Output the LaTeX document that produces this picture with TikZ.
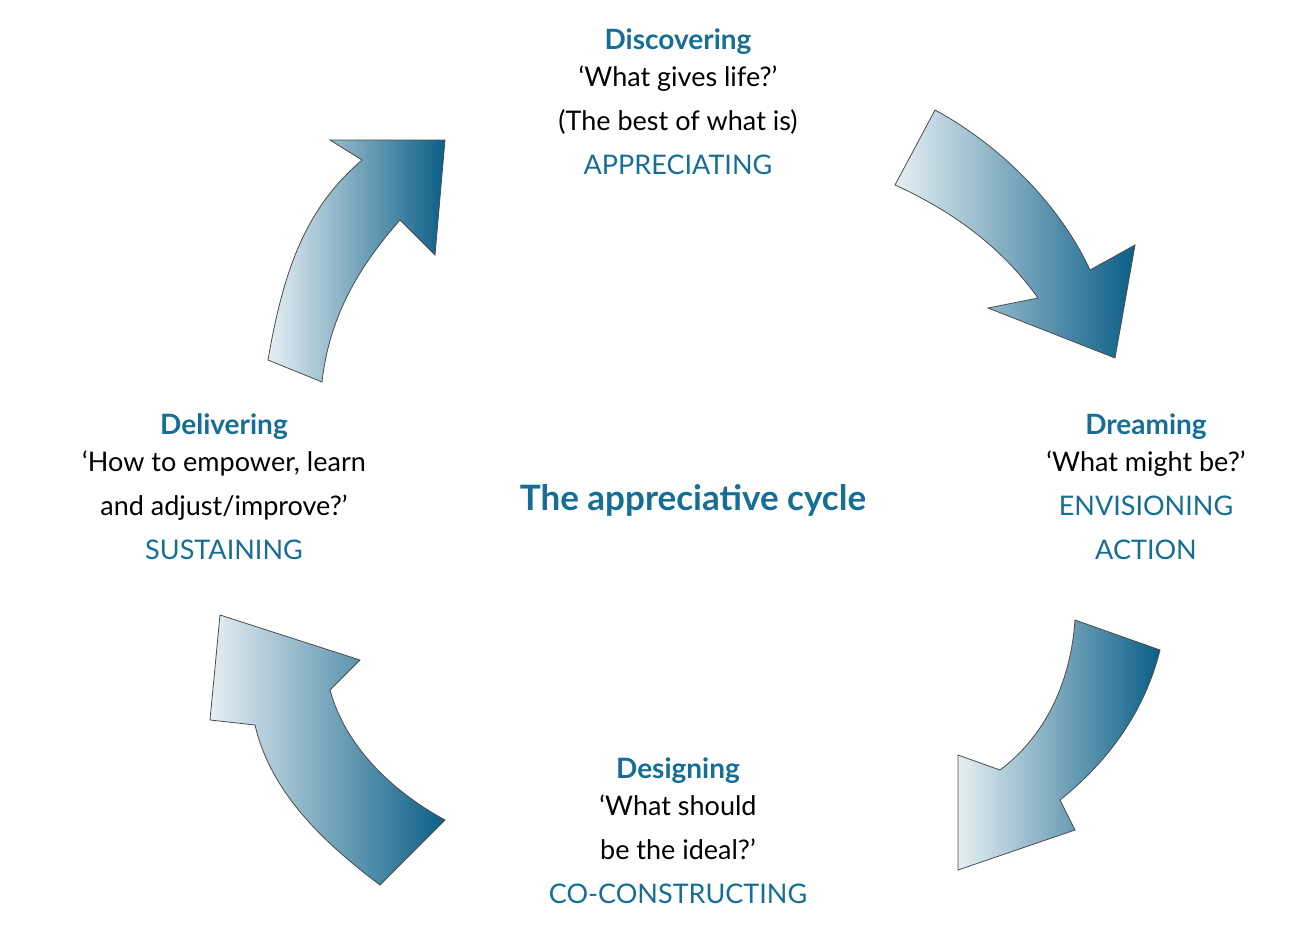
\documentclass[tikz,border=0pt]{standalone}
\usepackage{fontspec}
\setmainfont{Lato}
\definecolor{tb}{RGB}{22,110,150}
\definecolor{ad}{RGB}{10,95,135}
\begin{document}
\begin{tikzpicture}[x=1pt,y=-1pt,
  arr/.style={draw=black!70,line width=0.8pt,left color=white!90!ad,right color=ad},
  hd/.style={font=\fontsize{28}{32}\selectfont\bfseries,text=tb},
  tx/.style={font=\fontsize{27}{44}\selectfont,align=center}]
\useasboundingbox (0,0) rectangle (1290,951);
\path[arr] (268,360) .. controls (285,260) and (310,205) .. (362,160) -- (330,140) -- (445,140) -- (435,255) -- (400,220) .. controls (365,260) and (330,310) .. (322,382) -- cycle;
\path[arr] (935,110) .. controls (1000,145) and (1060,205) .. (1090,270) -- (1135,245) -- (1115,358) -- (988,308) -- (1038,298) .. controls (1000,245) and (950,210) .. (895,185) -- cycle;
\path[arr] (1075,620) .. controls (1070,690) and (1040,740) .. (1000,770) -- (958,755) -- (958,870) -- (1075,830) -- (1060,800) .. controls (1110,760) and (1145,710) .. (1160,650) -- cycle;
\path[arr] (380,885) .. controls (320,840) and (270,790) .. (255,725) -- (210,720) -- (220,615) -- (360,660) -- (330,690) .. controls (345,745) and (390,790) .. (445,820) -- cycle;
\node[hd] (t1) at (678,42) {Discovering};
\node[tx,anchor=north] (b1) at (678,62) {‘What gives life?’\\(The best of what is)\\\textcolor{tb}{APPRECIATING}};
\node[hd] (t2) at (1146,427) {Dreaming};
\node[tx,anchor=north] (b2) at (1146,447) {‘What might be?’\\\textcolor{tb}{ENVISIONING}\\\textcolor{tb}{ACTION}};
\node[hd] (t3) at (678,771) {Designing};
\node[tx,anchor=north] (b3) at (678,791) {‘What should\\be the ideal?’\\\textcolor{tb}{CO-CONSTRUCTING}};
\node[hd] (t4) at (224,427) {Delivering};
\node[tx,anchor=north] (b4) at (224,447) {‘How to empower, learn\\and adjust/improve?’\\\textcolor{tb}{SUSTAINING}};
\node[font=\fontsize{35}{40}\selectfont\bfseries,text=tb] (c) at (693,500) {The appreciative cycle};
\end{tikzpicture}
\end{document}
